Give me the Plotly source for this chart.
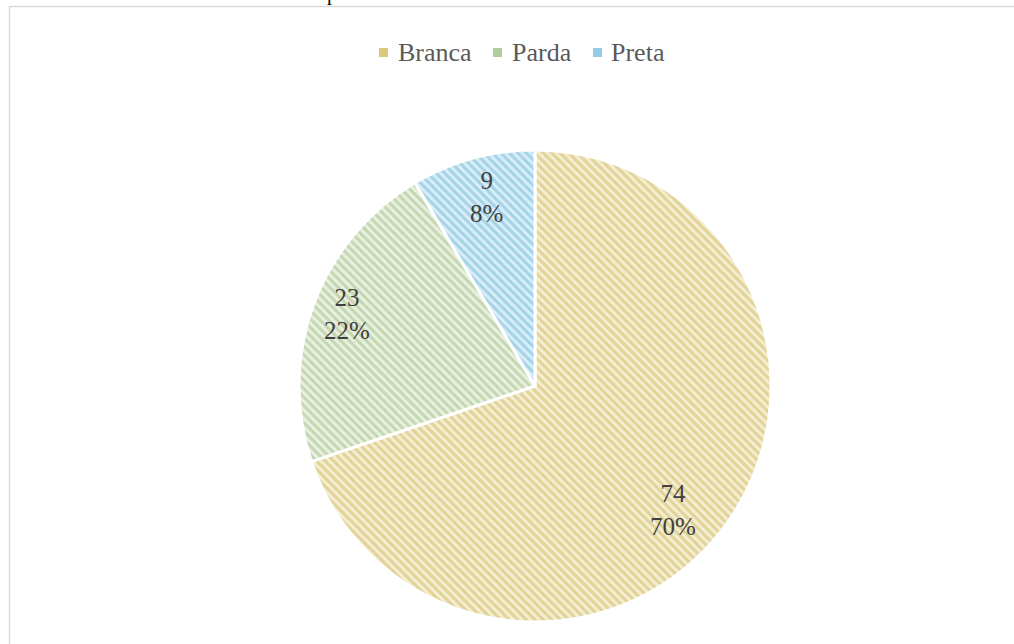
import plotly.graph_objects as go

# Distribution by race/colour
categories = ["Branca", "Parda", "Preta"]
values = [74, 23, 9]

# Slice styling: hatch line colour and background tint
fg_colors = ["#cdb55a", "#9dbd7e", "#6fb8d8"]
bg_colors = ["#f4eed3", "#e9f0e1", "#d9eef7"]
legend_colors = ["#dcc87c", "#b4cc9c", "#95cbe3"]

W, H = 1014, 644

def px(x):
    return x / W

def py(y):
    return 1 - y / H

total = sum(values)
percents = [round(v / total * 100) for v in values]

# Pie disc: centre (535, 386), radius 236 px
cx, cy, r = 535, 386, 236

fig = go.Figure(
    go.Pie(
        labels=categories,
        values=values,
        sort=False,
        direction="clockwise",
        rotation=0,
        textinfo="none",
        hoverinfo="label+value+percent",
        showlegend=False,
        domain=dict(x=[px(cx - r), px(cx + r)], y=[py(cy + r), py(cy - r)]),
        marker=dict(
            colors=bg_colors,
            line=dict(color="white", width=3),
            pattern=dict(
                shape="\\",
                fgcolor=fg_colors,
                bgcolor=bg_colors,
                fillmode="overlay",
                size=6,
                solidity=0.5,
            ),
        ),
    )
)

annotations = []
shapes = []

# Data labels: value on the first line, share on the second
label_centres = [(673, 510), (347, 314), (486, 197)]
for (lx, ly), v, p in zip(label_centres, values, percents):
    annotations.append(dict(
        x=px(lx), y=py(ly), xref="paper", yref="paper",
        text=f"{v}<br>{p}%", showarrow=False,
        xanchor="center", yanchor="middle", align="center",
        font=dict(family="Liberation Serif", size=25, color="#404040"),
    ))

# Legend row
legend_square_x = [379, 493, 593]
legend_text_x = [396, 510, 609]
legend_y = 52
for name, sx, tx, col in zip(categories, legend_square_x, legend_text_x, legend_colors):
    shapes.append(dict(
        type="rect", xref="paper", yref="paper",
        x0=px(sx), x1=px(sx + 9), y0=py(legend_y + 5), y1=py(legend_y - 4),
        fillcolor=col, line=dict(width=0),
    ))
    annotations.append(dict(
        x=px(tx), y=py(legend_y), xref="paper", yref="paper",
        text=name, showarrow=False, xanchor="left", yanchor="middle",
        font=dict(family="Liberation Serif", size=26, color="#595959"),
    ))

# Chart area frame (top and left edges)
shapes.append(dict(type="line", xref="paper", yref="paper",
                   x0=px(9), x1=1, y0=py(6.5), y1=py(6.5),
                   line=dict(color="#d9d9d9", width=1.3)))
shapes.append(dict(type="line", xref="paper", yref="paper",
                   x0=px(9.5), x1=px(9.5), y0=py(6), y1=0,
                   line=dict(color="#d9d9d9", width=1.5)))

# Caption text running above the chart
annotations.append(dict(
    x=px(332), y=1, xref="paper", yref="paper", yshift=7,
    text="p", showarrow=False, xanchor="center", yanchor="middle",
    font=dict(family="Liberation Serif", size=20, color="#000000"),
))

fig.update_layout(
    width=W, height=H,
    margin=dict(l=0, r=0, t=0, b=0),
    paper_bgcolor="white",
    plot_bgcolor="white",
    annotations=annotations,
    shapes=shapes,
)

fig.write_html("out.html")
